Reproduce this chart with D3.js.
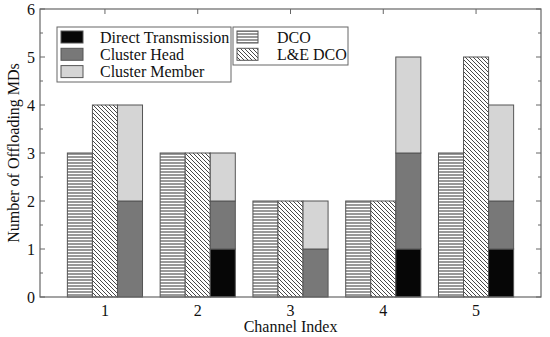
<!DOCTYPE html>
<html><head><meta charset="utf-8">
<script src="https://cdn.jsdelivr.net/npm/d3@7"></script>
<style>body{margin:0;background:#fff}svg{display:block}text{font-family:"Liberation Serif","Times New Roman",serif;fill:#111}</style>
</head><body><svg id="c" width="550" height="337"></svg>
<script>
const categories = [1, 2, 3, 4, 5];
const dco = [3, 3, 2, 2, 3];
const leDco = [4, 3, 2, 2, 5];
const directTx = [0, 1, 0, 1, 1];
const clusterHead = [2, 1, 1, 2, 1];
const clusterMember = [2, 1, 1, 2, 2];
const yTicks = [0, 1, 2, 3, 4, 5, 6];

const svg = d3.select("#c");
const L = 40, R = 541, T = 9, B = 297;
const x = d3.scaleLinear().domain([0.3, 5.7]).range([L, R]);
const y = d3.scaleLinear().domain([0, 6]).range([B, T]);
const bw = x(0.27) - x(0);
const fs = 16;

const defs = svg.append("defs");
const ph = defs.append("pattern").attr("id", "hz").attr("patternUnits", "userSpaceOnUse").attr("width", 6).attr("height", 3);
ph.append("rect").attr("width", 6).attr("height", 3).attr("fill", "#fff");
ph.append("line").attr("x1", 0).attr("x2", 6).attr("y1", 1).attr("y2", 1).attr("stroke", "#333").attr("stroke-width", 1);
const pd = defs.append("pattern").attr("id", "dg").attr("patternUnits", "userSpaceOnUse").attr("width", 4).attr("height", 4);
pd.append("rect").attr("width", 4).attr("height", 4).attr("fill", "#fff");
pd.append("path").attr("d", "M-1,-1 L5,5 M-1,3 L1,5 M3,-1 L5,1").attr("stroke", "#333").attr("stroke-width", 0.9);

const stroke = "#555";
svg.selectAll(".dco").data(categories).enter().append("rect")
  .attr("x", (d) => x(d) - 1.5 * bw).attr("width", bw)
  .attr("y", (d, i) => y(dco[i])).attr("height", (d, i) => y(0) - y(dco[i]))
  .attr("fill", "url(#hz)").attr("stroke", stroke);
svg.selectAll(".le").data(categories).enter().append("rect")
  .attr("x", (d) => x(d) - 0.5 * bw).attr("width", bw)
  .attr("y", (d, i) => y(leDco[i])).attr("height", (d, i) => y(0) - y(leDco[i]))
  .attr("fill", "url(#dg)").attr("stroke", stroke);
const stackSeries = [[directTx, "#060606"], [clusterHead, "#787878"], [clusterMember, "#d5d5d5"]];
categories.forEach((c, i) => {
  let base = 0;
  stackSeries.forEach(([arr, col]) => {
    const v = arr[i];
    if (v > 0) {
      svg.append("rect").attr("x", x(c) + 0.5 * bw).attr("width", bw)
        .attr("y", y(base + v)).attr("height", y(base) - y(base + v))
        .attr("fill", col).attr("stroke", stroke);
    }
    base += v;
  });
});

const ax = "#666";
svg.append("rect").attr("x", L).attr("y", T).attr("width", R - L).attr("height", B - T)
  .attr("fill", "none").attr("stroke", ax).attr("stroke-width", 1.2);
const minor = d3.range(0, 6.01, 0.5);
minor.forEach(v => {
  const len = Number.isInteger(v) ? 5 : 3;
  svg.append("line").attr("x1", L).attr("x2", L + len).attr("y1", y(v)).attr("y2", y(v)).attr("stroke", ax);
  svg.append("line").attr("x1", R).attr("x2", R - len).attr("y1", y(v)).attr("y2", y(v)).attr("stroke", ax);
});
yTicks.forEach(v => {
  svg.append("text").attr("x", L - 5).attr("y", y(v)).attr("dy", "0.35em").attr("text-anchor", "end")
    .attr("font-size", fs).text(v);
});
categories.forEach(c => {
  svg.append("line").attr("x1", x(c)).attr("x2", x(c)).attr("y1", T).attr("y2", T + 5).attr("stroke", ax);
  svg.append("text").attr("x", x(c)).attr("y", B + 19).attr("text-anchor", "middle").attr("font-size", fs).text(c);
});
svg.append("text").attr("x", (L + R) / 2).attr("y", 332).attr("text-anchor", "middle").attr("font-size", fs).text("Channel Index");
svg.append("text").attr("transform", `translate(19,${(T + B) / 2}) rotate(-90)`).attr("text-anchor", "middle").attr("font-size", fs).text("Number of Offloading MDs");

const lg1 = [["Direct Transmission", "#060606"], ["Cluster Head", "#787878"], ["Cluster Member", "#d5d5d5"]];
svg.append("rect").attr("x", 57).attr("y", 27).attr("width", 174).attr("height", 55).attr("fill", "#fff").attr("stroke", ax);
lg1.forEach(([t, col], i) => {
  const cy = 37 + i * 17.3;
  svg.append("rect").attr("x", 61).attr("y", cy - 6).attr("width", 22).attr("height", 12).attr("fill", col).attr("stroke", stroke);
  svg.append("text").attr("x", 100).attr("y", cy).attr("dy", "0.35em").attr("font-size", fs).text(t);
});
const lg2 = [["DCO", "url(#hz)"], ["L&E DCO", "url(#dg)"]];
svg.append("rect").attr("x", 233).attr("y", 27).attr("width", 115).attr("height", 38).attr("fill", "#fff").attr("stroke", ax);
lg2.forEach(([t, f], i) => {
  const cy = 37 + i * 17.3;
  svg.append("rect").attr("x", 237).attr("y", cy - 6).attr("width", 21).attr("height", 12).attr("fill", f).attr("stroke", stroke);
  svg.append("text").attr("x", 277).attr("y", cy).attr("dy", "0.35em").attr("font-size", fs).text(t);
});
</script></body></html>
